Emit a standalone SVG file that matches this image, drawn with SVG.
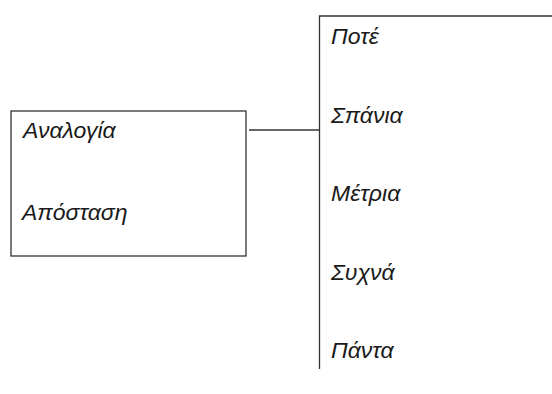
<svg xmlns="http://www.w3.org/2000/svg" width="552" height="394" viewBox="0 0 552 394">
<style>
.t{font-family:"Liberation Sans",Arial,sans-serif;font-style:italic;font-size:23px;fill:#1a1a1a}
.s{fill:none;stroke:#333;stroke-width:1.3}
</style>
<rect width="552" height="394" fill="#fff"/>
<g id="connectors">
<line class="s" x1="249" y1="130" x2="319" y2="130"/>
</g>
<g id="left">
<rect class="s" x="11" y="111" width="235" height="145"/>
<text class="t" x="23" y="137.5">Αναλογία</text>
<text class="t" x="22" y="220">Απόσταση</text>
</g>
<g id="right">
<path class="s" d="M319.5 369 V16 H552"/>
<text class="t" x="331" y="44">Ποτέ</text>
<text class="t" x="331" y="123">Σπάνια</text>
<text class="t" x="331" y="201">Μέτρια</text>
<text class="t" x="331" y="280">Συχνά</text>
<text class="t" x="331" y="358">Πάντα</text>
</g>
</svg>
